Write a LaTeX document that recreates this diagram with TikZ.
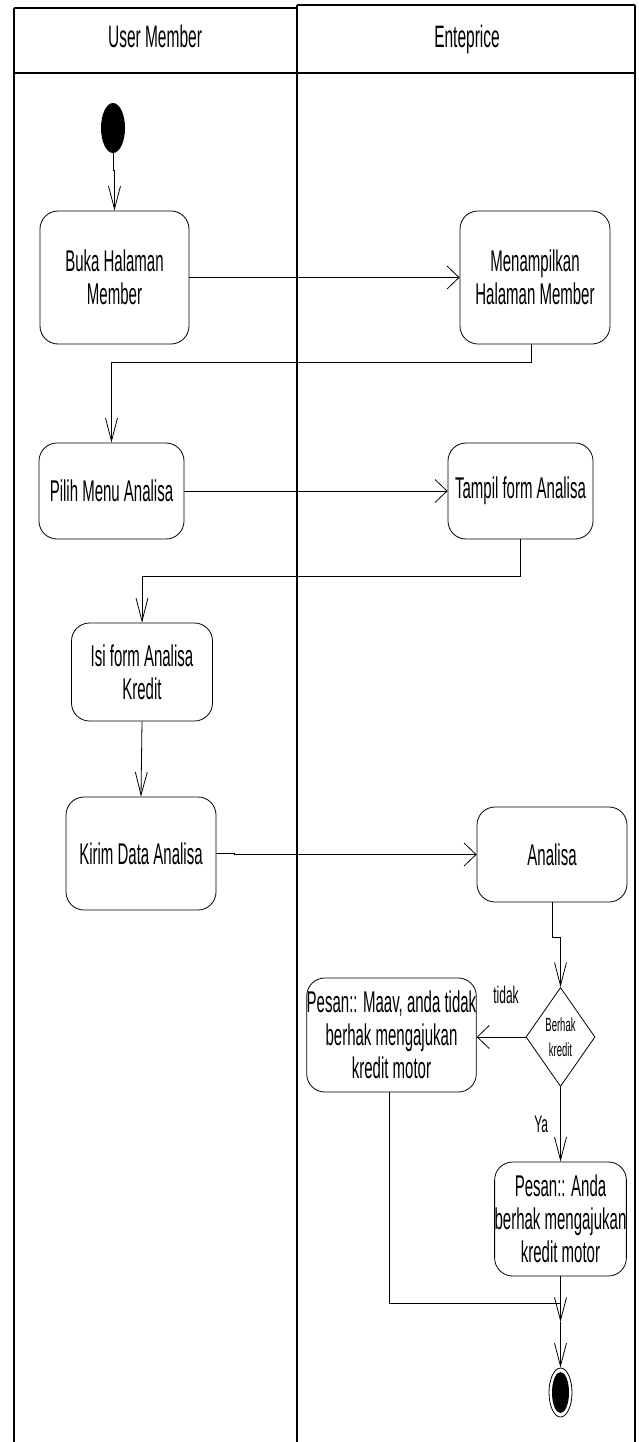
\documentclass[tikz,border=0pt]{standalone}
\usepackage{fontspec}
\setmainfont{Liberation Sans}[FakeStretch=0.5]
\usetikzlibrary{shapes.geometric, arrows.meta, positioning, calc}

\tikzset{
    aktivitas/.style={draw, line width=0.8pt, rounded corners=18pt, align=center,
        inner sep=0pt, font=\fontsize{30}{33}\selectfont},
    keputusan/.style={draw, diamond, line width=0.8pt, inner sep=0pt, align=center,
        font=\fontsize{19}{25}\selectfont},
    judul/.style={anchor=base, inner sep=0pt, font=\fontsize{31}{33}\selectfont},
    keterangan/.style={inner sep=0pt, font=\fontsize{24}{26}\selectfont},
    alurv/.style={line width=0.8pt, -{Straight Barb[length=23pt,width=12pt]}},
    aluru/.style={line width=0.8pt, -{Straight Barb[length=12pt,width=23pt]}},
    garis/.style={line width=0.8pt},
    bingkai/.style={line width=1.3pt}
}

\begin{document}
\begin{tikzpicture}[x=1pt, y=-1pt]
    \useasboundingbox (0,0) rectangle (638,1442);

    % Swimlanes
    \draw[bingkai] (14,8) -- (297,8) (297,5) -- (635,5) (14,73) -- (635,73);
    \draw[bingkai] (14,8) -- (14,1442) (297,5) -- (297,1442) (635,5) -- (635,1442);
    \node[judul] (lajurUser) at (155,48) {User Member};
    \node[judul] (lajurSistem) at (467,48) {Enteprice};

    % Start
    \node[ellipse, fill=black, minimum width=24pt, minimum height=50pt, inner sep=0pt] (mulai) at (113,128) {};

    % Activities
    \node[aktivitas, minimum width=149pt, minimum height=133pt] (buka) at (114.5,277.5) {Buka Halaman\\Member};
    \node[aktivitas, minimum width=150pt, minimum height=133pt] (tampilMember) at (535,277.5) {Menampilkan\\Halaman Member};
    \node[aktivitas, minimum width=145pt, minimum height=96pt] (pilih) at (111.5,491) {Pilih Menu Analisa};
    \node[aktivitas, minimum width=145pt, minimum height=96pt] (tampilForm) at (520.5,491) {Tampil form Analisa};
    \node[aktivitas, minimum width=141pt, minimum height=98pt] (isi) at (142,672) {Isi form Analisa\\Kredit};
    \node[aktivitas, minimum width=150pt, minimum height=113pt] (kirim) at (141,853.5) {Kirim Data Analisa};
    \node[aktivitas, minimum width=150pt, minimum height=95pt] (analisa) at (552,854.5) {Analisa};
    \node[keputusan, minimum width=58pt, minimum height=99pt] (cek) at (560.5,1037) {Berhak\\kredit};
    \node[aktivitas, minimum width=169pt, minimum height=114pt] (tolak) at (391.5,1035) {Pesan:: Maav, anda tidak\\berhak mengajukan\\kredit motor};
    \node[aktivitas, minimum width=131pt, minimum height=114pt] (terima) at (560.5,1219) {Pesan:: Anda\\berhak mengajukan\\kredit motor};

    % End
    \node[ellipse, draw, line width=0.8pt, minimum width=23pt, minimum height=49pt, inner sep=0pt] (akhir) at (560.5,1392.5) {};
    \node[ellipse, fill=black, minimum width=17pt, minimum height=41pt, inner sep=0pt] (akhirIsi) at (akhir.center) {};

    \coordinate (sambung) at (560.5,1303);
    \coordinate (gabung) at (560.5,1322);

    % Flows
    \draw[alurv] (mulai.south) -- ++(0,17) -| (buka.north);
    \draw[aluru] (buka) -- (tampilMember);
    \draw[alurv] ([xshift=-4pt]tampilMember.south) -- ++(0,18) -| (pilih.north);
    \draw[aluru] (pilih) -- (tampilForm);
    \draw[alurv] (tampilForm.south) -- ++(0,37) -| (isi.north);
    \draw[alurv] (isi.south) -- (kirim.north);
    \draw[aluru] (kirim.east) -- ++(18,0) |- (analisa.west);
    \draw[alurv] (analisa.south) -- ++(0,35) -| (cek.north);
    \draw[aluru] (cek.west) -- (cek.west -| tolak.east)
        node[keterangan, pos=0.4, above=33pt] (lblTidak) {tidak};
    \draw[alurv] (cek.south) -- (terima.north)
        node[keterangan, midway, left=12pt] (lblYa) {Ya};
    \draw[garis] ([xshift=-2.5pt]tolak.south) |- (sambung);
    \draw[alurv] (terima.south) -- (gabung);
    \draw[alurv] (gabung) -- (akhir.north);
\end{tikzpicture}
\end{document}
